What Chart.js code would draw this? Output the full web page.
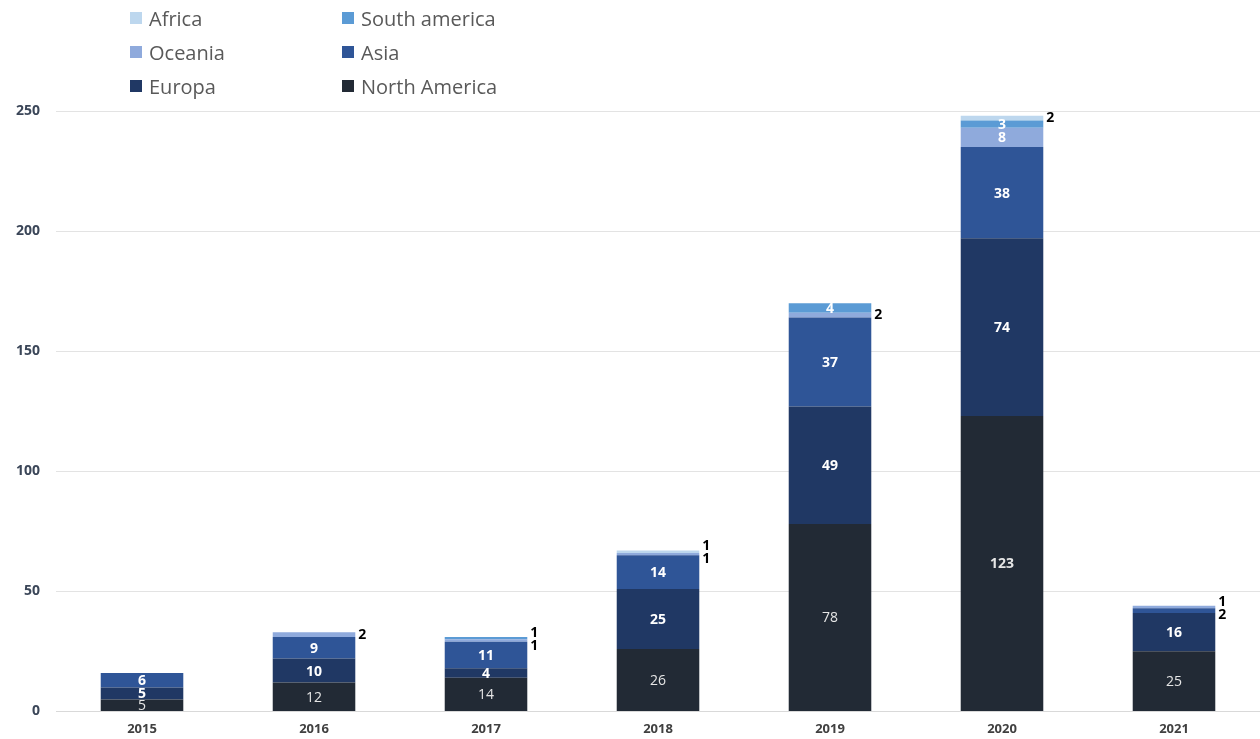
<!DOCTYPE html>
<html>
<head>
<meta charset="utf-8">
<script src="https://cdn.jsdelivr.net/npm/chart.js@4/dist/chart.umd.min.js"></script>
<style>
  html, body { margin: 0; padding: 0; background: #fff; }
  #wrap { position: relative; width: 1260px; height: 739px; }
  #legend { position: absolute; left: 130px; top: 5px; display: grid; grid-template-columns: 212px 200px; row-gap: 8px;
            font-family: "Open Sans", sans-serif; font-size: 20px; color: #595959; }
  .item { display: flex; align-items: center; height: 26px; }
  .box { width: 12px; height: 12px; margin-right: 7px; }
</style>
</head>
<body>
<div id="wrap">
  <canvas id="myChart" width="1260" height="739"></canvas>
  <div id="legend"></div>
</div>
<script>
const years = ["2015", "2016", "2017", "2018", "2019", "2020", "2021"];
const northAmerica = [5, 12, 14, 26, 78, 123, 25];
const europa = [5, 10, 4, 25, 49, 74, 16];
const asia = [6, 9, 11, 14, 37, 38, 2];
const oceania = [0, 2, 1, 1, 2, 8, 1];
const southAmerica = [0, 0, 1, 0, 4, 3, 0];
const africa = [0, 0, 0, 1, 0, 2, 0];
const yTicks = [0, 50, 100, 150, 200, 250];

const seriesNames = ["North America", "Europa", "Asia", "Oceania", "South america", "Africa"];
const seriesData = [northAmerica, europa, asia, oceania, southAmerica, africa];
const seriesColors = ["#222a35", "#203864", "#2f5597", "#8faadc", "#5b9bd5", "#bdd7ee"];

// legend order: two columns, top row first
const legendOrder = ["Africa", "South america", "Oceania", "Asia", "Europa", "North America"];
const legendEl = document.getElementById("legend");
legendOrder.forEach(name => {
  const i = seriesNames.indexOf(name);
  const item = document.createElement("div");
  item.className = "item";
  item.innerHTML = '<span class="box" style="background:' + seriesColors[i] + '"></span>' + name;
  legendEl.appendChild(item);
});

const datasets = seriesNames.map((name, i) => ({
  label: name,
  data: seriesData[i],
  backgroundColor: seriesColors[i],
  borderWidth: 0,
  barPercentage: 0.48,
  categoryPercentage: 1
}));

// values printed inside the segments, small ones go to the right of the bar
const segmentLabels = {
  id: "segmentLabels",
  afterDatasetsDraw(chart) {
    const ctx = chart.ctx;
    ctx.save();
    ctx.textBaseline = "middle";
    years.forEach((y, idx) => {
      const outside = [];
      chart.data.datasets.forEach((ds, di) => {
        const v = ds.data[idx];
        if (!v) return;
        const bar = chart.getDatasetMeta(di).data[idx];
        const cy = (bar.y + bar.base) / 2;
        if (v <= 2 && idx > 0) {
          outside.push({ v: v, y: cy, x: bar.x + bar.width / 2 + 3 });
          return;
        }
        const bold = di > 0 || v >= 100;
        ctx.font = (bold ? "bold " : "") + "14px 'Open Sans', sans-serif";
        ctx.fillStyle = di === 0 ? "#e6e6e6" : "#ffffff";
        ctx.textAlign = "center";
        ctx.fillText(v, bar.x, cy + 1);
      });
      // spread overlapping outside labels around their mean
      outside.sort((a, b) => a.y - b.y);
      if (outside.length > 1) {
        const gap = 13;
        const mean = outside.reduce((s, o) => s + o.y, 0) / outside.length;
        const start = mean - gap * (outside.length - 1) / 2;
        outside.forEach((o, k) => { o.y = start + k * gap; });
      }
      ctx.font = "bold 14px 'Open Sans', sans-serif";
      ctx.fillStyle = "#000000";
      ctx.textAlign = "left";
      outside.forEach(o => ctx.fillText(o.v, o.x, o.y));
    });
    ctx.restore();
  }
};

const ctx = document.getElementById("myChart").getContext("2d");
new Chart(ctx, {
  type: "bar",
  data: { labels: years, datasets: datasets },
  options: {
    responsive: false,
    animation: false,
    layout: { padding: { top: 111, right: 0, left: 0, bottom: 0 } },
    plugins: {
      legend: { display: false },
      tooltip: { enabled: false }
    },
    scales: {
      x: {
        stacked: true,
        grid: { display: false },
        border: { color: "#d9d9d9" },
        ticks: { color: "#404040", font: { family: "'Open Sans', sans-serif", size: 13, weight: "bold" }, padding: 2 }
      },
      y: {
        stacked: true,
        min: 0,
        max: 250,
        afterBuildTicks: axis => { axis.ticks = yTicks.map(v => ({ value: v })); },
        grid: { color: "#e3e3e3", drawTicks: false },
        border: { display: false },
        ticks: { color: "#3b4658", font: { family: "'Open Sans', sans-serif", size: 14, weight: "bold" }, padding: 16 }
      }
    }
  },
  plugins: [segmentLabels]
});
</script>
</body>
</html>
